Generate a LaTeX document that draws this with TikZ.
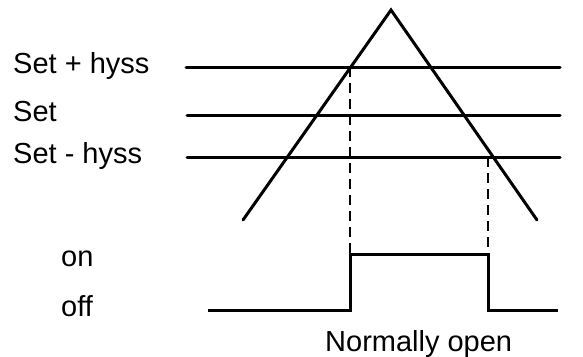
\documentclass[tikz,border=0pt]{standalone}
\usepackage{fontspec}
\setmainfont{Liberation Sans}
\begin{document}
\begin{tikzpicture}[x=1pt,y=-1pt,
  lbl/.style={inner sep=0pt,font=\fontsize{29}{35}\selectfont},
  solidline/.style={line width=3pt,line cap=round,line join=miter},
  dashline/.style={line width=1.6pt,dash pattern=on 10pt off 6pt}]
\useasboundingbox[fill=white] (0,0) rectangle (583,356);
% triangle
\coordinate (apex) at (391,10);
\coordinate (bl) at (243,220);
\coordinate (br) at (537,220);
% thresholds
\coordinate (h1a) at (186,67);  \coordinate (h1b) at (560,67);
\coordinate (h2a) at (187,115); \coordinate (h2b) at (560,115);
\coordinate (h3a) at (187,157); \coordinate (h3b) at (560,157);
\coordinate (p1) at (350,67);
\coordinate (p2) at (488,157);
% output
\coordinate (o1) at (208,310);
\coordinate (o6) at (558,310);
\path (p1 |- o1) coordinate (o2);
\path (p2 |- o1) coordinate (o5);
\path (p1 |- 0,254) coordinate (o3);
\path (p2 |- 0,254) coordinate (o4);
\draw[solidline] (h1a) -- (h1b);
\draw[solidline] (h2a) -- (h2b);
\draw[solidline] (h3a) -- (h3b);
\draw[solidline] (bl) -- (apex) -- (br);
\draw[dashline] (p1) -- (o3);
\draw[dashline] (p2) -- (o4);
\draw[solidline,line cap=butt] (o1) -- (o2) -- (o3) -- (o4) -- (o5) -- (o6);
% labels
\node[lbl,anchor=base west] (lh1) at (13,73) {Set + hyss};
\node[lbl,anchor=base west] (lh2) at (13,121) {Set};
\node[lbl,anchor=base west] (lh3) at (13,163) {Set - hyss};
\node[lbl,anchor=base west] (lon) at (61,266) {on};
\node[lbl,anchor=base west] (loff) at (61,316) {off};
\node[lbl,anchor=base west] (lno) at (325,351) {Normally open};
\end{tikzpicture}
\end{document}
